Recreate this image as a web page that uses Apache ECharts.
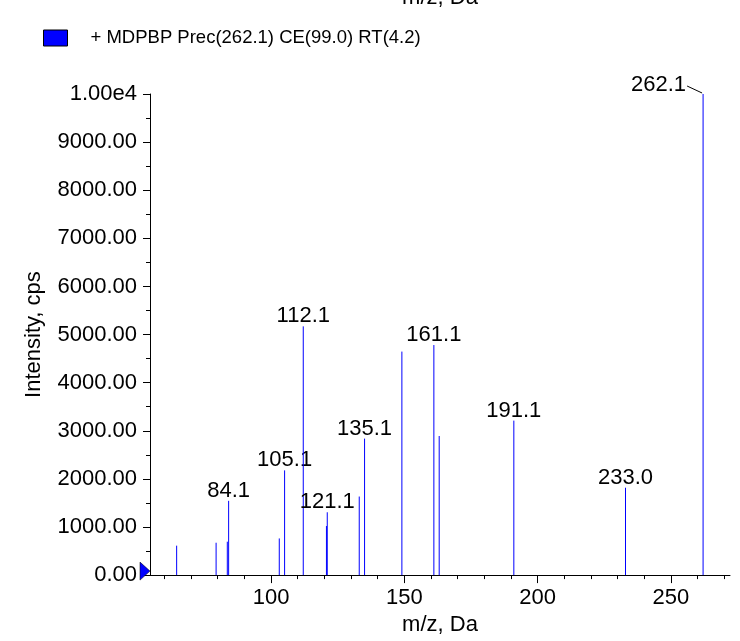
<!DOCTYPE html>
<html>
<head>
<meta charset="utf-8">
<script src="https://cdn.jsdelivr.net/npm/echarts@6/dist/echarts.min.js"></script>
<style>
html,body{margin:0;padding:0;background:#fff;}
#chart{width:740px;height:641px;}
</style>
</head>
<body>
<div id="chart"></div>
<script>
// ---- data ----
const seriesName = '+ MDPBP Prec(262.1) CE(99.0) RT(4.2)';
const mz =        [64.6, 79.4, 83.6, 84.1, 103.1, 105.1, 112.1, 120.8, 121.1, 133.1, 135.1, 149.1, 161.1, 163.1, 191.1, 233.0, 262.1];
const intensity = [612,  673,  694,  1544, 762,   2177,  5170,  1020,  1306,  1633,  2837,  4646,  4782,  2891,  3211,  1816,  10000];
const peakLabels = ['84.1', '105.1', '112.1', '121.1', '135.1', '161.1', '191.1', '233.0', '262.1'];
const xLabelValues = [100, 150, 200, 250];
const xMinorTickValues = [60, 70, 80, 90, 100, 110, 120, 130, 140, 150, 160, 170, 180, 190, 200, 210, 220, 230, 240, 250, 260, 270];
const xRange = [54.6, 272.2];
const yRange = [0, 10000];
const yInterval = 1000;

const FONT = '"Liberation Sans", Arial, sans-serif';
const chart = echarts.init(document.getElementById('chart'));

const data = mz.map((m, i) => [m, intensity[i], peakLabels.indexOf(m.toFixed(1)) >= 0 ? m.toFixed(1) : '']);

function renderItem(params, api) {
  const x = api.value(0), y = api.value(1);
  const label = data[params.dataIndex][2];
  const top = api.coord([x, y]);
  const base = api.coord([x, 0]);
  const children = [{
    type: 'line',
    shape: {x1: top[0], y1: top[1], x2: base[0], y2: base[1]},
    style: {stroke: '#0000ff', lineWidth: 1}
  }];
  if (label) {
    if (y >= yRange[1]) {
      children.push({
        type: 'line',
        shape: {x1: top[0] - 16, y1: top[1] - 8, x2: top[0] - 1, y2: top[1] - 1},
        style: {stroke: '#000', lineWidth: 1}
      });
      children.push({
        type: 'text', x: top[0] - 17, y: top[1] - 9,
        style: {text: label, fill: '#000', font: '22px ' + FONT, align: 'right', verticalAlign: 'middle'}
      });
    } else {
      children.push({
        type: 'text', x: top[0], y: top[1] - 10,
        style: {text: label, fill: '#000', font: '22px ' + FONT, align: 'center', verticalAlign: 'middle'}
      });
    }
  }
  return {type: 'group', children: children};
}

const option = {
  animation: false,
  backgroundColor: '#fff',
  textStyle: {fontFamily: FONT},
  grid: {left: 150, right: 10, top: 94, bottom: 57, containLabel: false},
  legend: {
    left: 43, top: 27, padding: 0,
    itemWidth: 24, itemHeight: 16,
    itemGap: 10,
    selectedMode: false,
    textStyle: {fontSize: 18.5, lineHeight: 22, color: '#000', fontFamily: FONT, padding: [0, 0, 0, 18]},
    data: [{name: seriesName, icon: 'rect', itemStyle: {color: '#0000ff', borderColor: '#000', borderWidth: 1}}]
  },
  graphic: [{
    type: 'text', x: 440, y: -2,
    style: {text: 'm/z, Da', fill: '#000', font: '22px ' + FONT, align: 'center', verticalAlign: 'middle'}
  }],
  xAxis: [{
    type: 'value', min: xRange[0], max: xRange[1],
    name: 'm/z, Da', nameLocation: 'middle', nameGap: 38,
    nameTextStyle: {fontSize: 22, color: '#000', fontFamily: FONT},
    axisLine: {show: true, lineStyle: {color: '#000', width: 1}},
    axisTick: {show: true, length: 8, lineStyle: {color: '#000'}, customValues: xLabelValues},
    axisLabel: {show: true, fontSize: 22, color: '#000', margin: 12, fontFamily: FONT, customValues: xLabelValues},
    splitLine: {show: false}
  }, {
    type: 'value', min: xRange[0], max: xRange[1], position: 'bottom',
    axisLine: {show: false},
    axisTick: {show: true, length: 4, lineStyle: {color: '#000'}, customValues: xMinorTickValues},
    axisLabel: {show: false},
    splitLine: {show: false}
  }],
  yAxis: {
    type: 'value', min: yRange[0], max: yRange[1], interval: yInterval,
    name: 'Intensity, cps', nameLocation: 'middle', nameGap: 105, nameRotate: 90,
    nameTextStyle: {fontSize: 22, color: '#000', fontFamily: FONT},
    axisLine: {show: true, lineStyle: {color: '#000', width: 1}},
    axisTick: {show: true, length: 7, lineStyle: {color: '#000'}},
    minorTick: {show: true, splitNumber: 2, length: 4, lineStyle: {color: '#000'}},
    axisLabel: {
      fontSize: 22, color: '#000', margin: 13, fontFamily: FONT, padding: [4, 0, 0, 0],
      formatter: v => v >= 10000 ? (v / 10000).toFixed(2) + 'e4' : v.toFixed(2)
    },
    splitLine: {show: false}
  },
  series: [{
    name: seriesName,
    type: 'custom',
    xAxisIndex: 0,
    renderItem: renderItem,
    encode: {x: 0, y: 1},
    data: data,
    itemStyle: {color: '#0000ff'},
    clip: false,
    markPoint: {
      silent: true,
      symbol: 'path://M0,0 L10,9 L0,18 Z',
      symbolSize: [10, 18],
      symbolOffset: [-5, -4],
      itemStyle: {color: '#0000ff', borderColor: '#000', borderWidth: 0.5},
      label: {show: false},
      data: [{coord: [xRange[0], 0]}]
    }
  }]
};
chart.setOption(option);
</script>
</body>
</html>
